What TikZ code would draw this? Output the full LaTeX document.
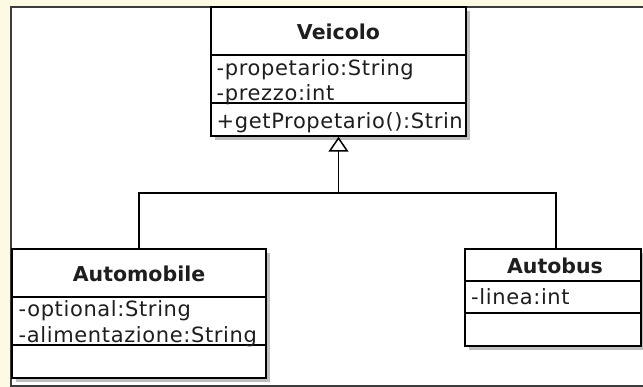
\documentclass[tikz,border=0pt]{standalone}
\usepackage{fontspec}
\setmainfont{DejaVu Sans}
\newfontfamily\attrfont[LetterSpace=3]{DejaVu Sans}
\usetikzlibrary{arrows.meta,shadows}
\definecolor{cream}{RGB}{253,250,228}
\definecolor{framec}{RGB}{60,60,60}
\definecolor{textc}{RGB}{30,30,30}
\tikzset{
  classbox/.style={draw=black, line width=1.5pt, fill=white, inner sep=0pt,
    drop shadow={shadow xshift=4pt, shadow yshift=-4pt, fill=black!25, opacity=1}},
  classtitle/.style={font=\fontsize{20.5}{24}\selectfont\bfseries, text=textc, inner sep=0pt},
  member/.style={font=\fontsize{21}{24}\selectfont\attrfont, text=textc, anchor=base west, inner sep=0pt},
  sep/.style={line width=1.5pt},
  link/.style={line width=1.5pt}
}
\begin{document}
\begin{tikzpicture}[x=1pt,y=-1pt]
\fill[cream] (0,0) rectangle (643,387);
\useasboundingbox (0,0) rectangle (643,387);
\fill[white] (11,7) rectangle (650,386);
\draw[framec, line width=2pt] (660,7) -- (11,7) -- (11,386) -- (660,386);

% Veicolo
\node[classbox, minimum width=255, minimum height=129] (veicolo) at (338.5,71.5) {};
\path (veicolo.north west) ++(0,49) coordinate (v1);
\path (veicolo.north west) ++(0,97) coordinate (v2);
\draw[sep] (v1) -- (v1 -| veicolo.east);
\draw[sep] (v2) -- (v2 -| veicolo.east);
\node[classtitle] (vt) at (338.5,32) {Veicolo};
\node[member] (va1) at (216.5,76) {-propetario:String};
\node[member] (va2) at (216.5,101) {-prezzo:int};
\begin{scope}
  \clip (v2) rectangle ([xshift=-0.75pt]veicolo.south east);
  \node[member] (vm1) at (216.5,129) {+getPropetario():Strin};
\end{scope}

% Automobile
\node[classbox, minimum width=254, minimum height=129] (automobile) at (139,313.5) {};
\path (automobile.north west) ++(0,49) coordinate (a1);
\path (automobile.north west) ++(0,97) coordinate (a2);
\draw[sep] (a1) -- (a1 -| automobile.east);
\draw[sep] (a2) -- (a2 -| automobile.east);
\node[classtitle] (at) at (139,274) {Automobile};
\node[member] (aa1) at (18.5,317) {-optional:String};
\node[member] (aa2) at (18.5,343) {-alimentazione:String};

% Autobus
\node[classbox, minimum width=176, minimum height=97] (autobus) at (553,297.5) {};
\path (autobus.north west) ++(0,33) coordinate (b1);
\path (autobus.north west) ++(0,65) coordinate (b2);
\draw[sep] (b1) -- (b1 -| autobus.east);
\draw[sep] (b2) -- (b2 -| autobus.east);
\node[classtitle] (bt) at (555,266) {Autobus};
\node[member] (ba1) at (471,305) {-linea:int};

% generalisation
\coordinate (j) at (338.5,193);
\coordinate (bn) at ([xshift=3pt]autobus.north);
\draw[link] (automobile.north) -- (automobile.north |- j) -- (bn |- j) -- (bn);
\draw[link, -{Triangle[open, length=15pt, width=20pt]}] (j) -- (veicolo.south);
\end{tikzpicture}
\end{document}
